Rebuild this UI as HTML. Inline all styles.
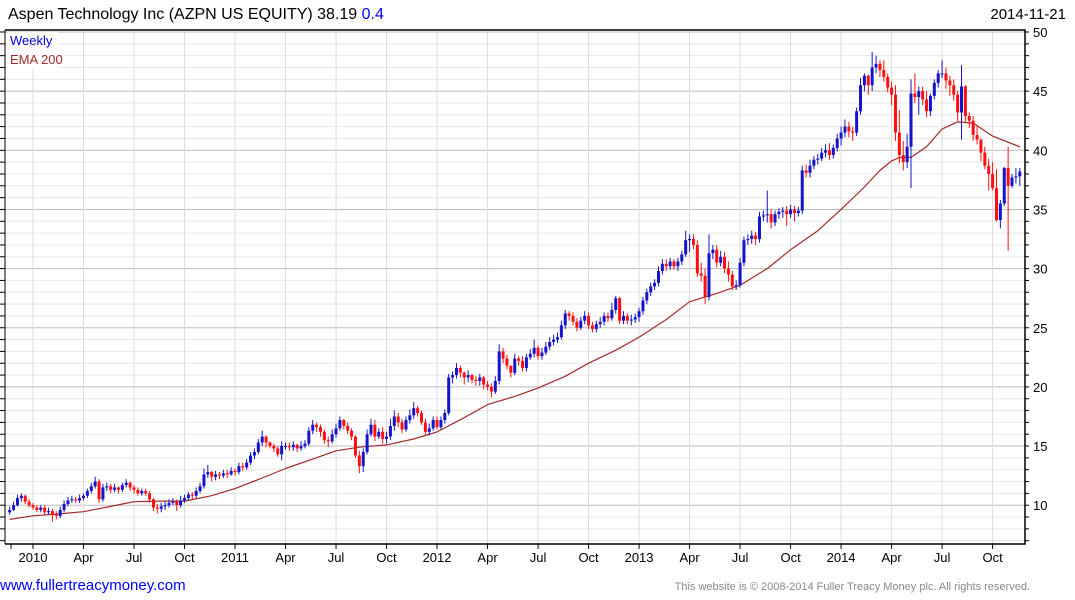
<!DOCTYPE html>
<html><head><meta charset="utf-8"><style>
body{margin:0;background:#fff;width:1075px;height:600px;overflow:hidden;font-family:"Liberation Sans",sans-serif}
svg{position:absolute;left:0;top:0}
</style></head><body>
<svg id="chart" width="1075" height="600">
<text x="8" y="19" font-size="16" fill="#000">Aspen Technology Inc (AZPN US EQUITY) 38.19 <tspan fill="#0000ff">0.4</tspan></text>
<text x="1066" y="19" font-size="15" fill="#000" text-anchor="end">2014-11-21</text>
<g id="grid"></g><g id="ema"></g><g id="candles"></g><g id="axes"></g>
<rect x="8" y="32" width="50" height="36" fill="#fff"/>
<text x="10" y="45" font-size="13" fill="#0000dd">Weekly</text>
<text x="10" y="64" font-size="13" fill="#a52a2a">EMA 200</text>
<text x="0" y="590" font-size="15" fill="#0000ff">www.fullertreacymoney.com</text>
<text x="1030" y="590" font-size="11" fill="#888" text-anchor="end">This website is © 2008-2014 Fuller Treacy Money plc. All rights reserved.</text>
</svg>
<script>
const opens=[9.4,9.6,10.0,10.6,10.8,10.3,
10.0,9.8,9.6,9.8,9.4,9.5,9.2,9.1,9.6,10.1,10.4,10.5,10.4,
10.6,10.8,11.2,11.6,12.0,10.5,11.5,11.6,11.3,11.5,11.3,11.7,11.9,
11.5,11.3,11.0,11.2,11.0,10.5,9.8,9.7,9.9,10.0,10.2,10.3,10.0,
10.4,10.6,10.9,10.8,11.2,11.6,12.6,12.8,12.4,12.6,12.5,12.7,12.6,
12.9,12.8,13.3,13.2,13.6,14.2,14.5,15.3,15.8,15.3,15.0,14.8,14.3,
15.0,15.0,14.9,15.1,14.8,15.0,15.2,16.3,16.8,16.6,16.2,15.5,15.4,
16.0,16.5,17.2,16.7,16.3,15.8,14.2,13.3,14.5,16.0,16.8,15.8,16.2,
15.6,15.8,16.7,17.5,17.0,16.4,17.2,17.6,18.2,17.8,17.0,16.2,16.5,
17.2,16.6,17.2,17.8,20.8,21.0,21.6,21.2,20.8,21.0,20.6,20.5,20.8,
20.2,20.0,19.6,20.5,23.0,22.4,21.8,21.2,22.4,22.2,21.6,22.5,22.8,
23.3,22.6,22.9,23.4,23.8,24.0,24.2,25.2,26.2,26.0,25.5,25.0,25.6,
26.0,25.2,24.9,25.3,25.5,26.0,25.8,26.5,27.5,25.6,26.0,25.6,25.7,
25.9,26.4,27.3,28.0,28.5,28.8,29.8,30.4,30.2,30.6,30.2,30.6,31.2,
32.4,32.5,32.0,29.6,29.4,27.6,31.3,31.6,30.5,31.0,30.0,29.5,28.5,
28.6,30.5,32.4,32.5,32.8,32.5,34.4,34.5,34.6,33.9,34.6,34.8,34.9,
34.6,35.0,34.7,34.9,38.3,38.1,38.7,39.2,39.3,39.8,40.0,39.6,40.2,
41.0,41.5,42.0,41.6,41.5,43.3,45.5,46.3,45.5,47.0,47.3,46.8,46.2,
45.3,44.7,41.5,39.6,39.0,40.3,44.8,44.5,45.0,44.3,43.3,44.6,45.7,
46.5,46.5,45.9,45.5,44.7,43.2,45.4,42.9,42.5,41.3,40.9,39.8,38.7,
38.0,36.8,34.1,35.5,38.5,37.0,37.7,37.8];
const highs=[9.9,10.3,10.9,11.0,10.9,10.5,
10.2,10.0,10.0,10.0,9.8,9.7,9.5,9.9,10.4,10.7,10.8,10.7,10.9,
11.0,11.4,11.9,12.4,12.2,11.8,11.9,11.8,11.8,11.6,11.9,12.2,12.0,
11.7,11.5,11.4,11.4,11.2,10.6,10.1,10.2,10.3,10.5,10.6,10.5,10.8,
10.9,11.1,11.1,11.5,11.9,13.1,13.4,12.9,12.9,12.8,13.0,13.0,13.2,
13.1,13.6,13.6,13.9,14.5,14.8,15.6,16.3,15.9,15.4,15.2,15.0,15.4,
15.3,15.3,15.4,15.2,15.4,15.5,16.6,17.2,17.0,16.8,16.4,15.8,16.4,
16.9,17.5,17.3,17.0,16.5,15.9,14.6,14.8,16.4,17.3,17.2,16.5,16.6,
16.2,17.3,18.0,17.8,17.3,17.5,18.1,18.7,18.4,18.0,17.3,16.9,17.5,
17.5,17.5,18.1,21.1,21.3,22.0,21.8,21.3,21.4,21.1,20.9,21.1,20.9,
20.5,20.3,20.9,23.6,23.3,22.7,21.8,22.8,22.6,22.6,22.8,23.2,24.0,
23.5,23.3,23.8,24.2,24.4,24.6,25.6,26.5,26.4,26.3,25.8,25.9,26.4,
26.3,25.5,25.6,25.9,26.3,26.3,27.1,27.7,27.6,26.4,26.2,26.1,26.2,
26.7,27.6,28.3,28.8,29.1,30.2,30.8,30.8,30.9,30.8,30.9,31.5,33.2,
32.9,32.9,32.4,30.5,30.0,32.9,32.0,32.0,31.5,31.4,30.6,29.8,29.0,
30.9,32.7,32.9,33.2,33.1,34.8,34.9,36.6,35.0,34.9,35.1,35.2,35.3,
35.4,35.3,35.2,38.7,38.8,39.2,39.5,39.7,40.2,40.5,40.6,40.5,41.4,
42.0,42.6,42.4,42.0,43.6,46.1,46.5,46.4,48.3,48.0,47.6,47.6,46.5,
45.8,45.5,43.4,40.8,41.4,46.0,46.5,45.4,45.4,45.0,44.8,46.0,46.8,
47.6,47.0,46.3,46.0,45.0,47.2,45.5,43.2,42.9,42.0,41.0,40.3,39.3,
39.0,38.4,35.8,38.6,40.3,38.0,38.5,38.5];
const lows=[9.2,9.5,9.9,10.3,10.1,9.8,
9.6,9.4,9.4,9.2,9.2,8.6,8.8,8.9,9.4,9.9,10.2,10.2,10.2,
10.4,10.6,11.0,11.4,10.2,10.3,11.2,11.0,11.1,11.0,11.1,11.5,11.2,
11.0,10.8,10.8,10.8,10.2,9.5,9.3,9.4,9.6,9.8,10.0,9.5,9.8,
10.2,10.4,10.5,10.6,11.0,11.4,12.3,12.0,12.1,12.2,12.3,12.3,12.5,
12.5,12.6,12.9,13.0,13.4,13.9,14.3,15.0,14.9,14.8,14.5,14.1,13.8,
14.7,14.6,14.6,14.5,14.6,14.8,15.0,16.0,16.2,15.8,15.2,14.9,15.2,
15.7,16.3,16.4,16.0,15.5,14.0,12.7,12.8,14.3,15.8,15.4,15.6,15.2,
15.2,15.5,16.3,16.6,16.1,16.2,16.9,17.3,17.5,16.8,15.9,15.9,16.3,
16.4,16.4,16.9,17.6,20.3,20.7,20.8,20.2,20.4,20.3,20.1,20.1,19.8,
19.7,19.1,19.4,20.2,22.0,21.5,20.8,21.0,21.8,21.3,21.3,22.3,22.5,
22.3,22.3,22.7,23.1,23.5,23.7,24.0,24.9,25.6,25.2,24.7,24.8,25.3,
24.9,24.6,24.6,25.0,25.2,25.5,25.6,26.2,25.3,25.3,25.3,25.2,25.4,
25.5,26.1,27.0,27.7,28.2,28.5,29.5,29.8,29.9,29.9,29.8,30.3,31.0,
31.4,31.6,29.3,28.9,27.0,27.3,30.8,30.1,30.2,29.6,28.9,28.2,28.2,
28.4,30.2,32.0,32.1,32.0,32.2,34.0,33.9,33.4,33.6,34.2,34.3,33.6,
34.3,34.0,34.4,34.6,37.7,37.7,38.4,38.8,39.1,39.4,39.2,39.3,39.9,
40.4,41.1,41.1,40.8,41.2,43.0,45.0,44.7,45.0,46.5,46.2,45.8,44.9,
43.8,40.8,38.9,38.3,38.5,36.8,44.0,43.0,43.8,42.8,42.9,44.3,45.3,
46.1,45.2,44.6,44.2,42.5,40.9,42.4,41.9,40.8,40.5,39.1,38.4,36.6,
36.6,34.0,33.4,35.3,31.5,36.8,37.2,37.0];
const closes=[9.6,10.0,10.6,10.8,10.3,10.0,
9.8,9.6,9.8,9.4,9.5,9.2,9.1,9.6,10.1,10.4,10.5,10.4,10.6,
10.8,11.2,11.6,12.0,10.5,11.5,11.6,11.3,11.5,11.3,11.7,11.9,11.5,
11.3,11.0,11.2,11.0,10.5,9.8,9.7,9.9,10.0,10.2,10.3,10.0,10.4,
10.6,10.9,10.8,11.2,11.6,12.6,12.8,12.4,12.6,12.5,12.7,12.6,12.9,
12.8,13.3,13.2,13.6,14.2,14.5,15.3,15.8,15.3,15.0,14.8,14.3,15.0,
15.0,14.9,15.1,14.8,15.0,15.2,16.3,16.8,16.6,16.2,15.5,15.4,16.0,
16.5,17.2,16.7,16.3,15.8,14.2,13.3,14.5,16.0,16.8,15.8,16.2,15.6,
15.8,16.7,17.5,17.0,16.4,17.2,17.6,18.2,17.8,17.0,16.2,16.5,17.2,
16.6,17.2,17.8,20.8,21.0,21.6,21.2,20.8,21.0,20.6,20.5,20.8,20.2,
20.0,19.6,20.5,23.0,22.4,21.8,21.2,22.4,22.2,21.6,22.5,22.8,23.3,
22.6,22.9,23.4,23.8,24.0,24.2,25.2,26.2,26.0,25.5,25.0,25.6,26.0,
25.2,24.9,25.3,25.5,26.0,25.8,26.5,27.5,25.6,26.0,25.6,25.7,25.9,
26.4,27.3,28.0,28.5,28.8,29.8,30.4,30.2,30.6,30.2,30.6,31.2,32.4,
32.5,32.0,29.6,29.4,27.6,31.3,31.6,30.5,31.0,30.0,29.5,28.5,28.6,
30.5,32.4,32.5,32.8,32.5,34.4,34.5,34.6,33.9,34.6,34.8,34.9,34.6,
35.0,34.7,34.9,38.3,38.1,38.7,39.2,39.3,39.8,40.0,39.6,40.2,41.0,
41.5,42.0,41.6,41.5,43.3,45.5,46.3,45.5,47.0,47.3,46.8,46.2,45.3,
44.7,41.5,39.6,39.0,40.3,44.8,44.5,45.0,44.3,43.3,44.6,45.7,46.5,
46.5,45.9,45.5,44.7,43.2,45.4,42.9,42.5,41.3,40.9,39.8,38.7,38.0,
36.8,34.1,35.5,38.5,37.0,37.7,37.8,38.2];
const emaWeeks=[0,6,12,19,26,32,39,45,52,58,65,71,78,84,90,97,104,110,117,123,130,136,143,149,156,162,169,175,182,188,195,201,208,214,220,224,227,229,232,236,240,244,248,253,260];
const emaValues=[8.8,9.1,9.25,9.45,9.9,10.3,10.35,10.35,10.8,11.4,12.3,13.1,13.9,14.6,14.9,15.1,15.6,16.2,17.4,18.5,19.2,19.9,20.9,22.0,23.1,24.2,25.7,27.2,27.9,28.6,30.0,31.6,33.2,35.0,36.9,38.3,39.1,39.4,39.4,40.3,41.8,42.4,42.3,41.2,40.3];
const yTicks=[10,15,20,25,30,35,40,45,50];
const quarterLabels=["2010","Apr","Jul","Oct","2011","Apr","Jul","Oct","2012","Apr","Jul","Oct","2013","Apr","Jul","Oct","2014","Apr","Jul","Oct"];

const NS="http://www.w3.org/2000/svg";
const L=5,R=1025,T=30,B=544;
function y(p){return 32+(50-p)*11.83;}
function x(i){return 33+(i-6)*3.885;}
function mk(tag,attrs,parent){const e=document.createElementNS(NS,tag);for(const k in attrs)e.setAttribute(k,attrs[k]);parent.appendChild(e);return e;}
const grid=document.getElementById('grid'),axes=document.getElementById('axes');
const pMin=Math.ceil(50-(B-32)/11.83);
for(let p=pMin;p<=50;p++){
  const major=p%5===0;
  const g=mk('line',{x1:L,x2:R,y1:y(p),y2:y(p),stroke:major?'#bdbdbd':'#e8e8e8','stroke-width':1},grid);
  
  
  const t=mk('line',{x1:R,x2:R+4,y1:y(p),y2:y(p),stroke:'#000'},axes);
  
  
  const t2=mk('line',{x1:0,x2:L,y1:y(p),y2:y(p),stroke:'#000'},axes);
  
  
}
yTicks.forEach(v=>{
  const t=mk('text',{x:R+8,y:y(v)+5,'font-size':13,fill:'#000'},axes);
  t.textContent=v;
  
  
});
quarterLabels.forEach((lab,q)=>{
  const xx=x(6+q*13);
  const g=mk('line',{x1:xx,x2:xx,y1:T,y2:B,stroke:'#dcdcdc'},grid);
  
  
  const tk=mk('line',{x1:xx,x2:xx,y1:B,y2:B+5,stroke:'#000'},axes);
  
  
  const t=mk('text',{x:xx,y:562,'font-size':13,fill:'#000','text-anchor':'middle'},axes);
  t.textContent=lab;
  
  
});
const ft=mk('line',{x1:11,x2:11,y1:B,y2:B+5,stroke:'#000'},axes);


const frame=mk('path',{d:`M${L} ${T}H${R}V${B}H${L}`,fill:'none',stroke:'#000','stroke-width':1.5},axes);


const ll=mk('line',{x1:L,x2:L,y1:T,y2:B,stroke:'#000'},axes);



const ema=document.getElementById('ema');
const pts=emaWeeks.map((w,k)=>x(w).toFixed(1)+','+y(emaValues[k]).toFixed(1)).join(' ');
const el=mk('polyline',{points:pts,fill:'none',stroke:'#a52a2a','stroke-width':1.2,'stroke-linejoin':'round'},ema);



const cg=document.getElementById('candles');
closes.forEach((c,i)=>{
  const o=opens[i],up=c>=o,col=up?'#1414c8':'#ff1010',xx=x(i);
  const w=mk('line',{x1:xx,x2:xx,y1:y(highs[i]),y2:y(lows[i]),stroke:col,'stroke-width':1},cg);
  
  
  const top=y(Math.max(o,c)),h=Math.max(1,y(Math.min(o,c))-top);
  const b=mk('rect',{x:xx-1.5,y:top,width:3,height:h,fill:col},cg);
  
  
});
</script>
</body></html>
